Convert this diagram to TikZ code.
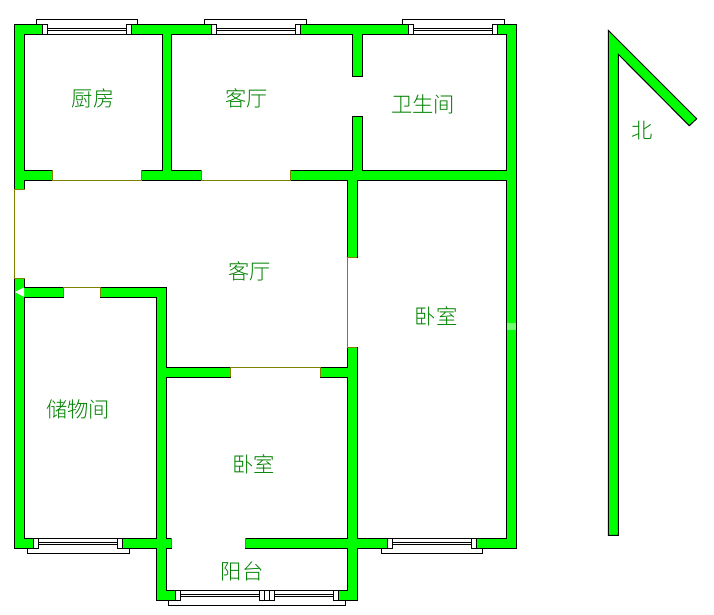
\documentclass[tikz,border=0pt]{standalone}
\usepackage{fontspec}
\newfontfamily\cjk{Noto Sans CJK SC Light}
\definecolor{wallgreen}{RGB}{0,255,0}
\definecolor{doorolive}{RGB}{128,128,0}
\definecolor{labelgreen}{RGB}{0,128,0}
\definecolor{patchgreen}{RGB}{110,255,110}
\tikzset{
  wall/.style={draw=black,fill=wallgreen,line width=1pt},
  jamb/.style={draw=black,fill=white,line width=1pt},
  pane/.style={draw=black,line width=1pt},
  door/.style={draw=doorolive,line width=1pt},
  room/.style={text=labelgreen,inner sep=0pt,font=\cjk\fontsize{21.3}{21.3}\selectfont}
}
\begin{document}
\begin{tikzpicture}[x=1pt,y=-1pt]
 \useasboundingbox (0,0) rectangle (714,614);
 % walls
 \draw[wall](14.5,189.5)--(14.5,24.5)--(42.3,24.5)--(42.3,34)--(24.5,34)--(24.5,170)--(52.5,170)--(52.5,180)--(24.5,180)--(24.5,189.5)--cycle;
 \draw[wall](131.7,24.5)--(211.3,24.5)--(211.3,34)--(171.5,34)--(171.5,170)--(201.5,170)--(201.5,180)--(141.5,180)--(141.5,170)--(162,170)--(162,34)--(131.7,34)--cycle;
 \draw[wall](300.7,24.5)--(408.3,24.5)--(408.3,34)--(362.3,34)--(362.3,76.5)--(352.3,76.5)--(352.3,34)--(300.7,34)--cycle;
 \draw[wall](497.7,24.5)--(516.3,24.5)--(516.3,548.3)--(476.7,548.3)--(476.7,538.3)--(506.3,538.3)--(506.3,180)--(357.3,180)--(357.3,257.5)--(347.3,257.5)--(347.3,180)--(290,180)--(290,170)--(352.3,170)--(352.3,116.5)--(362.3,116.5)--(362.3,170)--(506.3,170)--(506.3,34)--(497.7,34)--cycle;
 \draw[wall](14.5,278.5)--(24.5,278.5)--(24.5,287.5)--(63.5,287.5)--(63.5,297)--(24.5,297)--(24.5,538.3)--(33.3,538.3)--(33.3,548.3)--(14.5,548.3)--cycle;
 \draw[wall](100.5,287.5)--(166.5,287.5)--(166.5,367.3)--(230.5,367.3)--(230.5,377.3)--(166.5,377.3)--(166.5,538.3)--(171.7,538.3)--(171.7,548.3)--(166.5,548.3)--(166.5,590.3)--(175.3,590.3)--(175.3,600.3)--(156.5,600.3)--(156.5,548.3)--(122.7,548.3)--(122.7,538.3)--(156.5,538.3)--(156.5,297)--(100.5,297)--cycle;
 \draw[wall](347.3,347.3)--(357.3,347.3)--(357.3,538.3)--(387.3,538.3)--(387.3,548.3)--(357.3,548.3)--(357.3,600.3)--(338.7,600.3)--(338.7,590.3)--(347.3,590.3)--(347.3,548.3)--(245.3,548.3)--(245.3,538.3)--(347.3,538.3)--(347.3,377.3)--(320.5,377.3)--(320.5,367.3)--(347.3,367.3)--cycle;
 % north sign
 \draw[wall](608.3,30.3)--(696.7,118.7)--(689.3,125.7)--(618.3,54.3)--(618.3,535.3)--(608.3,535.3)--cycle;
 % door openings
 \draw[door](52.5,170)--(52.5,180)--(141.5,180)--(141.5,170);
 \draw[door](201.5,170)--(201.5,180)--(290,180)--(290,170);
 \draw[door](24.5,189.5)--(14.5,189.5)--(14.5,278.5)--(24.5,278.5);
 \draw[door](63.5,297)--(63.5,287.5)--(100.5,287.5)--(100.5,297);
 \draw[door](357.3,257.5)--(347.3,257.5)--(347.3,347.3)--(357.3,347.3);
 \draw[door](230.5,377.3)--(230.5,367.3)--(320.5,367.3)--(320.5,377.3);
 \draw[door](171.7,538.3)--(171.7,548.3);
 \draw[door](245.3,538.3)--(245.3,548.3);
 \fill[white](15,292)--(24,287.5)--(24,297)--cycle;
 \fill[patchgreen](507,323) rectangle (516,330);
 % top windows
 \draw[pane](36.3,24.5)--(36.3,19.3)--(137.3,19.3)--(137.3,24.5);
 \draw[pane](47.7,28.3)--(126.3,28.3);
 \draw[pane](47.7,30.7)--(126.3,30.7);
 \draw[pane](47.7,34)--(126.3,34);
 \draw[jamb](42.3,24.5) rectangle (47.7,34);
 \draw[jamb](126.3,24.5) rectangle (131.7,34);
 \draw[pane](204.3,24.5)--(204.3,19.3)--(306.3,19.3)--(306.3,24.5);
 \draw[pane](216.7,28.3)--(295.3,28.3);
 \draw[pane](216.7,30.7)--(295.3,30.7);
 \draw[pane](216.7,34)--(295.3,34);
 \draw[jamb](211.3,24.5) rectangle (216.7,34);
 \draw[jamb](295.3,24.5) rectangle (300.7,34);
 \draw[pane](402.3,24.5)--(402.3,19.3)--(504.3,19.3)--(504.3,24.5);
 \draw[pane](413.7,28.3)--(492.3,28.3);
 \draw[pane](413.7,30.7)--(492.3,30.7);
 \draw[pane](413.7,34)--(492.3,34);
 \draw[jamb](408.3,24.5) rectangle (413.7,34);
 \draw[jamb](492.3,24.5) rectangle (497.7,34);
 % bottom windows
 \draw[pane](27.3,548.3)--(27.3,553.3)--(129.3,553.3)--(129.3,548.3);
 \draw[pane](38.7,538.3)--(117.3,538.3);
 \draw[pane](38.7,542.3)--(117.3,542.3);
 \draw[pane](38.7,544.3)--(117.3,544.3);
 \draw[jamb](33.3,538.3) rectangle (38.7,548.3);
 \draw[jamb](117.3,538.3) rectangle (122.7,548.3);
 \draw[pane](381.3,548.3)--(381.3,553.3)--(482.7,553.3)--(482.7,548.3);
 \draw[pane](392.7,538.3)--(471.3,538.3);
 \draw[pane](392.7,542.3)--(471.3,542.3);
 \draw[pane](392.7,544.3)--(471.3,544.3);
 \draw[jamb](387.3,538.3) rectangle (392.7,548.3);
 \draw[jamb](471.3,538.3) rectangle (476.7,548.3);
 % balcony window
 \draw[pane](168.3,600.3)--(168.3,605.3)--(345.7,605.3)--(345.7,600.3);
 \draw[pane](180.7,590.3)--(333.3,590.3);
 \draw[pane](180.7,594.3)--(333.3,594.3);
 \draw[pane](180.7,596.3)--(333.3,596.3);
 \draw[jamb](175.3,590.3) rectangle (180.7,600.3);
 \draw[jamb](259.7,590.3) rectangle (264.7,600.3);
 \draw[jamb](264.7,590.3) rectangle (269.7,600.3);
 \draw[jamb](269.7,590.3) rectangle (274.7,600.3);
 \draw[jamb](333.3,590.3) rectangle (338.7,600.3);
 % labels
 \node[room] (kitchen) at (93,98.5) {厨房};
 \node[room] (hallup) at (246.5,98.5) {客厅};
 \node[room] (bath) at (423,104.5) {卫生间};
 \node[room] (hall) at (249.5,271.5) {客厅};
 \node[room] (bedeast) at (436,316.5) {卧室};
 \node[room] (store) at (78,409.5) {储物间};
 \node[room] (bedsouth) at (253.5,464.5) {卧室};
 \node[room] (balcony) at (242,571.5) {阳台};
 \node[room] (north) at (642,130.5) {北};
\end{tikzpicture}
\end{document}
